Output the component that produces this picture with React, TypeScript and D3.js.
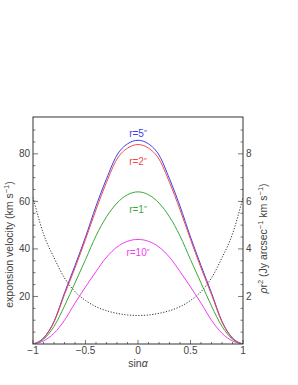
import React from "react";
import * as d3 from "d3";

const sinAlpha = [-1, -0.9, -0.8, -0.7, -0.6, -0.5, -0.4, -0.3, -0.2, -0.1, 0, 0.1, 0.2, 0.3, 0.4, 0.5, 0.6, 0.7, 0.8, 0.9, 1];
const vR5 = [0, 2.5, 9.5, 21.5, 33, 45, 58, 69.5, 79.5, 84.2, 85.7, 84.2, 79.5, 69.5, 58, 45, 33, 21.5, 9.5, 2.5, 0];
const vR2 = [0, 2.4, 9.2, 20.8, 32, 44, 56.5, 68, 77.8, 82.4, 83.9, 82.4, 77.8, 68, 56.5, 44, 32, 20.8, 9.2, 2.4, 0];
const vR1 = [0, 2, 7.4, 16, 25.7, 35.5, 45.5, 53.5, 59.3, 62.8, 64, 62.8, 59.3, 53.5, 45.5, 35.5, 25.7, 16, 7.4, 2, 0];
const vR10 = [0, 1.3, 4.5, 10, 17.2, 24, 30.5, 36.5, 40.8, 43.2, 44, 43.2, 40.8, 36.5, 30.5, 24, 17.2, 10, 4.5, 1.3, 0];
const rhoR2 = [6.17, 4.63, 3.63, 2.78, 2.2, 1.83, 1.57, 1.4, 1.29, 1.22, 1.2, 1.22, 1.29, 1.4, 1.57, 1.83, 2.2, 2.78, 3.63, 4.63, 6.17];

const xTicks = [-1, -0.5, 0, 0.5, 1];
const xTickLabels = ["\u22121", "\u22120.5", "0", "0.5", "1"];
const yLeftTicks = [20, 40, 60, 80];
const yRightTicks = [2, 4, 6, 8];

const series = [
  { name: "5", values: vR5, color: "#3c3cf2", labelV: 87 },
  { name: "2", values: vR2, color: "#f24848", labelV: 75.2 },
  { name: "1", values: vR1, color: "#3aa83a", labelV: 55 },
  { name: "10", values: vR10, color: "#f03cf0", labelV: 37 },
];

const FONT = "Liberation Sans, Arial, Helvetica, sans-serif";

export default function App() {
  const L = 33, R = 243, T = 117, B = 344;
  const x = d3.scaleLinear().domain([-1, 1]).range([L, R]);
  const yL = d3.scaleLinear().domain([0, 95.5]).range([B, T]);
  const yR = d3.scaleLinear().domain([0, 9.55]).range([B, T]);

  const lineL = d3.line<number>().x((_, i) => x(sinAlpha[i])).y((d) => yL(d)).curve(d3.curveMonotoneX);
  const lineR = d3.line<number>().x((_, i) => x(sinAlpha[i])).y((d) => yR(d)).curve(d3.curveMonotoneX);

  const xMinor = d3.range(-10, 11).map((i) => i / 10).filter((v) => !xTicks.some((t) => Math.abs(t - v) < 1e-9));
  const yLMinor = d3.range(5, 95, 5).filter((v) => v % 20 !== 0);
  const yRMinor = d3.range(1, 19).map((i) => i * 0.5).filter((v) => v % 2 !== 0);

  const tickColor = "#555";
  const labelColor = "#444";

  return (
    <svg width={298} height={385} style={{ position: "absolute", left: 0, top: 0 }} fontFamily={FONT}>
      <rect width={298} height={385} fill="#fff" />
      <defs>
        <clipPath id="plot">
          <rect x={L} y={T} width={R - L} height={B - T} />
        </clipPath>
      </defs>

      <g stroke={tickColor} strokeWidth={0.8}>
        {xTicks.map((t) => (
          <line key={"xt" + t} x1={x(t)} x2={x(t)} y1={B} y2={B - 4} />
        ))}
        {xMinor.map((t) => (
          <line key={"xm" + t} x1={x(t)} x2={x(t)} y1={B} y2={B - 2} />
        ))}
        {yLeftTicks.map((t) => (
          <line key={"yl" + t} x1={L} x2={L + 5} y1={yL(t)} y2={yL(t)} />
        ))}
        {yLMinor.map((t) => (
          <line key={"ylm" + t} x1={L} x2={L + 2.5} y1={yL(t)} y2={yL(t)} />
        ))}
        {yRightTicks.map((t) => (
          <line key={"yr" + t} x1={R} x2={R - 5} y1={yR(t)} y2={yR(t)} />
        ))}
        {yRMinor.map((t) => (
          <line key={"yrm" + t} x1={R} x2={R - 2.5} y1={yR(t)} y2={yR(t)} />
        ))}
      </g>

      <g clipPath="url(#plot)" fill="none">
        <path d={lineR(rhoR2) || ""} stroke="#333" strokeWidth={1} strokeDasharray="1.2,1.6" />
        {series.map((s) => (
          <path key={s.name} d={lineL(s.values) || ""} stroke={s.color} strokeWidth={1} />
        ))}
      </g>

      <rect x={L} y={T} width={R - L} height={B - T} fill="none" stroke="#333" strokeWidth={1} />

      {series.map((s) => (
        <text key={"lab" + s.name} x={x(0)} y={yL(s.labelV)} fill={s.color} fontSize={10} textAnchor="middle">
          {"r=" + s.name}
          <tspan fontSize={8} dy={-2}>{"\u2033"}</tspan>
        </text>
      ))}

      <g fill={labelColor} fontSize={10}>
        {xTicks.map((t, i) => (
          <text key={"xl" + t} x={x(t)} y={354} textAnchor="middle">
            {xTickLabels[i]}
          </text>
        ))}
        {yLeftTicks.map((t) => (
          <text key={"yll" + t} x={30} y={yL(t) + 3.5} textAnchor="end">
            {t}
          </text>
        ))}
        {yRightTicks.map((t) => (
          <text key={"yrl" + t} x={246} y={yR(t) + 3.5} textAnchor="start">
            {t}
          </text>
        ))}
      </g>

      <text x={x(0)} y={367} fill={labelColor} fontSize={10.5} textAnchor="middle">
        sin<tspan fontStyle="italic">α</tspan>
      </text>
      <text transform={`translate(13,${(T + B) / 2 + 14}) rotate(-90)`} fill={labelColor} fontSize={10.5} textAnchor="middle">
        exponsion velocity (km s<tspan fontSize={7.5} dy={-4}>−1</tspan>
        <tspan dy={4}>)</tspan>
      </text>
      <text transform={`translate(267,${(T + B) / 2 + 8}) rotate(-90)`} fill={labelColor} fontSize={10.5} textAnchor="middle">
        <tspan fontStyle="italic">ρ</tspan>r<tspan fontSize={7.5} dy={-4}>2</tspan>
        <tspan dy={4}> (Jy arcsec</tspan>
        <tspan fontSize={7.5} dy={-4}>−1</tspan>
        <tspan dy={4}> km s</tspan>
        <tspan fontSize={7.5} dy={-4}>−1</tspan>
        <tspan dy={4}>)</tspan>
      </text>
    </svg>
  );
}
